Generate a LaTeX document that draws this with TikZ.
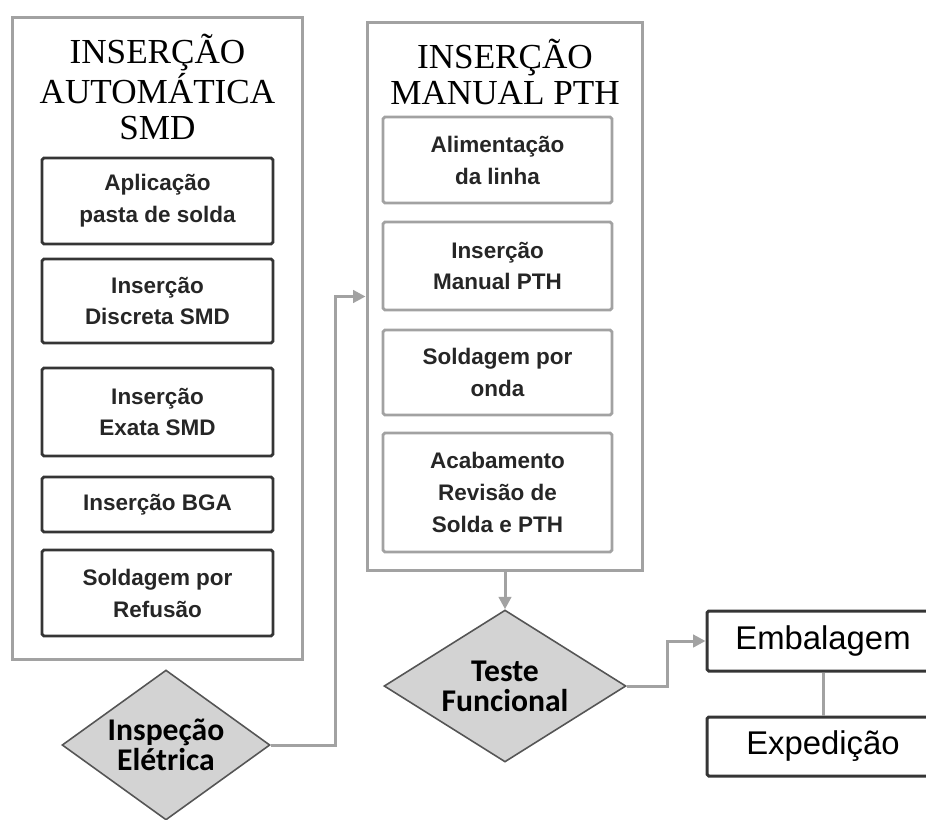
\documentclass[tikz,border=0pt]{standalone}
\usepackage{fontspec}
\setmainfont{Liberation Serif}
\newfontfamily\boxfont{Liberation Sans}
\newfontfamily\decfont{Carlito}
\usetikzlibrary{shapes.geometric,arrows.meta}

\definecolor{linegray}{HTML}{A2A2A2}
\definecolor{boxdark}{HTML}{353535}
\definecolor{decfill}{HTML}{D3D3D3}
\definecolor{decline}{HTML}{555555}

\begin{document}
\begin{tikzpicture}[x=0.02cm,y=-0.02cm,
  >={Triangle[length=7pt,width=7pt]},
  group/.style={draw=linegray, line width=1.7pt, inner sep=0pt},
  grouptitle/.style={align=center, font=\fontsize{20}{20.6}\selectfont},
  smdbox/.style={draw=boxdark, line width=1.6pt, rounded corners=1pt, minimum width=4.62cm,
    align=center, inner sep=0pt, text=black!85, font=\boxfont\bfseries\fontsize{12.8}{18.2}\selectfont},
  pthbox/.style={smdbox, draw=linegray, minimum width=4.58cm},
  decision/.style={diamond, aspect=1.5, draw=decline, line width=0.9pt, fill=decfill, inner sep=1pt,
    align=center, font=\decfont\bfseries\fontsize{18}{17}\selectfont},
  endbox/.style={draw=boxdark, line width=1.7pt, rounded corners=1pt, minimum width=4.64cm,
    inner sep=0pt, font=\boxfont\fontsize{18.7}{20}\selectfont},
  flow/.style={draw=linegray, line width=1.7pt}]
\useasboundingbox (0,0) rectangle (926,819);

% insercao automatica
\node[group, minimum width=5.82cm, minimum height=12.86cm] (smd) at (157.5,338.5) {};
\node[grouptitle] (smdtitle) at (157.5,87) {INSERÇÃO\\AUTOMÁTICA\\SMD};
\node[smdbox, minimum height=1.72cm] (pasta) at (157.5,201) {Aplicação\\pasta de solda};
\node[smdbox, minimum height=1.68cm] (discreta) at (157.5,301) {Inserção\\Discreta SMD};
\node[smdbox, minimum height=1.76cm] (exata) at (157.5,412) {Inserção\\Exata SMD};
\node[smdbox, minimum height=1.10cm] (bga) at (157.5,504.5) {Inserção BGA};
\node[smdbox, minimum height=1.72cm] (refusao) at (157.5,593) {Soldagem por\\Refusão};

% insercao manual
\node[group, minimum width=5.52cm, minimum height=10.98cm] (pth) at (505,296.5) {};
\node[grouptitle] (pthtitle) at (505,72) {INSERÇÃO\\MANUAL PTH};
\node[pthbox, minimum height=1.72cm] (alim) at (497.5,160) {Alimentação\\da linha};
\node[pthbox, minimum height=1.76cm] (manual) at (497.5,266) {Inserção\\Manual PTH};
\node[pthbox, minimum height=1.70cm] (onda) at (497.5,372.5) {Soldagem por\\onda};
\node[pthbox, minimum height=2.38cm] (acab) at (497.5,492.5) {Acabamento\\Revisão de\\Solda e PTH};

\node[decision, minimum width=4.16cm, minimum height=3.0cm] (insp) at (166,745) {Inspeção\\Elétrica};
\node[decision, minimum width=4.84cm, minimum height=3.04cm] (teste) at (505,686) {Teste\\Funcional};
\node[endbox, minimum height=1.2cm] (emb) at (823,641) {Embalagem};
\node[endbox, minimum height=1.18cm] (exp) at (823,746.5) {Expedição};

\draw[flow, ->] (insp.east) -- ++(65,0) |- (pth.west);
\draw[flow, ->] (pth.south) -- (teste.north);
\draw[flow, ->] (teste.east) -- ++(41,0) |- (emb.west);
\draw[flow] (emb.south) -- (exp.north);
\end{tikzpicture}
\end{document}
